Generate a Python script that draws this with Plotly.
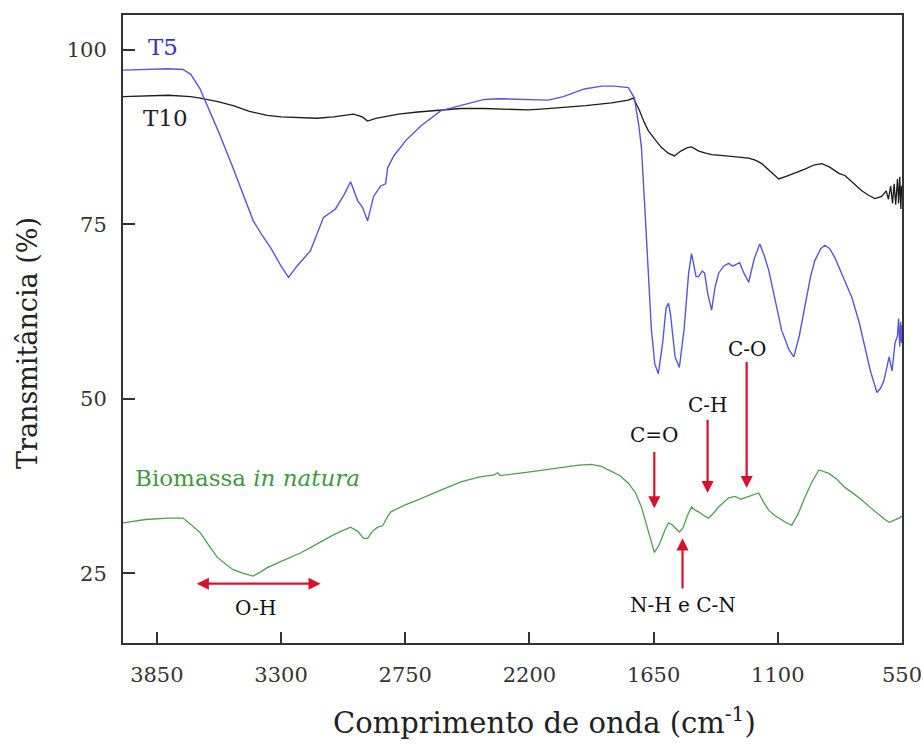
import plotly.graph_objects as go

# FTIR spectra: wavenumber (cm-1) and transmittance (%)
t5_wn = [4000, 3900, 3800, 3734, 3700, 3660, 3636, 3580, 3525, 3470, 3423, 3385, 3347, 3300, 3267,
         3230, 3170, 3112, 3080, 3059, 3020, 2992, 2961, 2939, 2917, 2890, 2859, 2837, 2828, 2801,
         2748, 2681, 2592, 2490, 2400, 2339, 2200, 2117, 2050, 1957, 1880, 1824, 1762, 1735, 1715,
         1704, 1690, 1673, 1660, 1645, 1629, 1610, 1595, 1584, 1575, 1555, 1536, 1515, 1495, 1482,
         1470, 1462, 1451, 1435, 1424, 1410, 1393, 1378, 1362, 1340, 1318, 1300, 1269, 1250, 1229,
         1205, 1180, 1160, 1140, 1110, 1083, 1050, 1029, 1005, 980, 955, 936, 910, 892, 870,
         847, 810, 772, 740, 714, 690, 661, 645, 630, 615, 607, 594, 581, 570, 565,
         560, 556, 552, 550]
t5_t = [97.1, 97.2, 97.3, 97.2, 96.5, 94.5, 92.7, 88.5, 84.1, 79.5, 75.5, 73.5, 71.7, 69.0, 67.4,
        69.0, 71.2, 76.0, 76.8, 77.2, 79.3, 81.1, 78.4, 77.4, 75.5, 79.0, 80.5, 80.8, 83.1, 84.8,
        87.0, 89.1, 91.3, 92.2, 92.9, 93.0, 92.9, 92.8, 93.3, 94.4, 94.8, 94.8, 94.6, 93.1, 89.0,
        86.0, 78.0, 67.0, 60.0, 55.0, 53.6, 58.0, 63.0, 63.7, 62.0, 56.0, 54.5, 60.0, 68.0, 70.8,
        68.5, 67.5, 67.5, 68.3, 68.0, 65.0, 62.7, 66.0, 68.0, 69.0, 69.4, 69.0, 69.5, 68.0, 66.7,
        70.0, 72.2, 70.5, 68.4, 64.0, 59.8, 57.0, 56.0, 59.0, 63.0, 67.5, 69.8, 71.5, 72.0, 71.5,
        70.2, 67.5, 64.5, 61.0, 57.4, 54.0, 50.9, 51.5, 52.6, 55.0, 56.0, 54.0, 58.0, 59.0, 61.5,
        57.5, 61.0, 58.0, 60.5]

t10_wn = [4000, 3900, 3800, 3700, 3658, 3580, 3512, 3440, 3361, 3300, 3214, 3140, 3068, 3000, 2979,
          2940, 2917, 2880, 2846, 2780, 2695, 2600, 2504, 2400, 2300, 2206, 2150, 2060, 1950, 1837,
          1762, 1740, 1715, 1690, 1673, 1640, 1615, 1585, 1558, 1530, 1500, 1482, 1450, 1420, 1393,
          1330, 1270, 1229, 1200, 1171, 1130, 1096, 1060, 1025, 980, 940, 905, 870, 830, 803,
          770, 728, 700, 670, 640, 620, 610, 600, 592, 585, 578, 570, 565, 560, 555,
          552, 550]
t10_t = [93.3, 93.4, 93.5, 93.3, 93.1, 92.6, 92.0, 91.2, 90.6, 90.4, 90.3, 90.2, 90.4, 90.7, 90.8,
         90.4, 89.8, 90.2, 90.4, 90.8, 91.1, 91.3, 91.6, 91.6, 91.5, 91.4, 91.5, 91.7, 92.0, 92.4,
         92.8, 93.1, 91.5, 89.5, 88.4, 87.0, 86.0, 85.2, 84.8, 85.5, 86.0, 86.1, 85.5, 85.2, 85.0,
         84.8, 84.6, 84.5, 84.2, 83.7, 82.5, 81.5, 81.9, 82.3, 82.9, 83.5, 83.7, 83.2, 82.3, 82.0,
         81.0, 79.8, 79.2, 78.7, 79.0, 79.8, 78.6, 80.5, 78.0, 80.8, 77.8, 81.5, 78.0, 81.8, 77.2,
         80.5, 79.0]

bio_wn = [4000, 3978, 3900, 3800, 3734, 3700, 3658, 3620, 3583, 3545, 3512, 3470, 3423, 3390, 3361,
          3300, 3214, 3140, 3068, 3020, 2992, 2960, 2935, 2917, 2895, 2872, 2850, 2830, 2814, 2750,
          2694, 2600, 2504, 2420, 2357, 2340, 2330, 2206, 2100, 2060, 1980, 1926, 1880, 1851, 1800,
          1762, 1730, 1704, 1690, 1673, 1660, 1647, 1630, 1616, 1600, 1584, 1570, 1558, 1536, 1520,
          1500, 1482, 1465, 1451, 1430, 1407, 1385, 1362, 1340, 1318, 1290, 1265, 1247, 1215, 1185,
          1165, 1140, 1110, 1083, 1060, 1038, 1010, 980, 950, 918, 900, 874, 840, 803, 760,
          728, 690, 652, 630, 607, 585, 563, 550]
bio_t = [32.2, 32.3, 32.7, 32.9, 32.9, 32.0, 30.8, 29.0, 27.3, 26.3, 25.5, 25.0, 24.6, 25.2, 25.8,
         26.7, 27.9, 29.2, 30.5, 31.2, 31.6, 31.0, 30.0, 30.0, 31.0, 31.6, 31.8, 33.0, 33.8, 34.8,
         35.5, 36.8, 38.1, 38.8, 39.1, 39.4, 39.0, 39.5, 40.0, 40.2, 40.5, 40.6, 40.3, 39.8, 39.0,
         37.9, 36.5, 34.5, 33.0, 31.2, 29.5, 28.0, 28.8, 29.8, 31.2, 32.2, 32.0, 31.6, 30.9, 31.5,
         33.3, 34.5, 34.0, 33.8, 33.3, 32.9, 33.6, 34.5, 35.2, 35.8, 36.0, 35.6, 35.8, 36.2, 36.5,
         35.3, 34.0, 33.2, 32.6, 32.2, 31.9, 33.5, 35.9, 38.0, 39.8, 39.6, 39.3, 38.5, 37.3, 36.3,
         35.5, 34.4, 33.3, 32.8, 32.3, 32.6, 32.9, 33.2]

x_ticks = [3850, 3300, 2750, 2200, 1650, 1100, 550]
y_ticks = [25, 50, 75, 100]

# band assignments: (label, wavenumber, label y, arrow tail y, arrow head y)
bands = [
    ("C=O", 1647, 44.8, 42.6, 34.3),
    ("C-H", 1411, 49.1, 47.2, 36.5),
    ("C-O", 1238, 57.2, 55.5, 37.2),
    ("N-H e C-N", 1522, 20.5, 22.6, 30.0),
]

SERIF = "DejaVu Serif"
RED = "#d8122c"

fig = go.Figure()
fig.add_trace(go.Scatter(x=t10_wn, y=t10_t, mode="lines", line=dict(color="#1c1c1c", width=1.3),
                         name="T10", showlegend=False))
fig.add_trace(go.Scatter(x=t5_wn, y=t5_t, mode="lines", line=dict(color="#5656dc", width=1.4),
                         name="T5", showlegend=False))
fig.add_trace(go.Scatter(x=bio_wn, y=bio_t, mode="lines", line=dict(color="#4f9f4f", width=1.3),
                         name="Biomassa in natura", showlegend=False))

ann = []
# series labels
ann.append(dict(x=3822, y=100.4, text="T5", showarrow=False, xref="x", yref="y",
                font=dict(family=SERIF, size=23, color="#3434c8")))
ann.append(dict(x=3813, y=90.3, text="T10", showarrow=False, xref="x", yref="y",
                font=dict(family=SERIF, size=23, color="#222222")))
ann.append(dict(x=3956, y=38.6, text="Biomassa <i>in natura</i>", showarrow=False, xref="x", yref="y",
                xanchor="left", font=dict(family=SERIF, size=23, color="#3e9a3e")))

# O-H stretching range (double-headed arrow)
ann.append(dict(x=3125, y=23.5, ax=3680, ay=23.5, axref="x", ayref="y", xref="x", yref="y",
                text="", showarrow=True, arrowhead=2, startarrowhead=2, arrowside="end+start",
                arrowsize=1.1, startarrowsize=1.1, arrowwidth=2.2, arrowcolor=RED))
ann.append(dict(x=3414, y=20.0, text="O-H", showarrow=False, xref="x", yref="y",
                font=dict(family=SERIF, size=20, color="#111111")))

for label, wn, ly, tail, head in bands:
    ann.append(dict(x=wn, y=head, ax=wn, ay=tail, axref="x", ayref="y", xref="x", yref="y",
                    text="", showarrow=True, arrowhead=2, arrowsize=1.1, arrowwidth=2.2,
                    arrowcolor=RED))
    ann.append(dict(x=wn, y=ly, text=label, showarrow=False, xref="x", yref="y",
                    font=dict(family=SERIF, size=20, color="#111111")))

# axis titles
ann.append(dict(x=0.5, y=0, xref="paper", yref="paper", yanchor="middle", yshift=-78, xshift=32,
                text="Comprimento de onda (cm<sup>-1</sup>)", showarrow=False,
                font=dict(family=SERIF, size=29, color="#222222")))
ann.append(dict(x=0, y=0.5, xref="paper", yref="paper", xanchor="center", yanchor="middle",
                xshift=-96, yshift=-14, textangle=-90, text="Transmitância (%)", showarrow=False,
                font=dict(family=SERIF, size=27, color="#222222")))

fig.update_layout(
    width=923, height=749,
    margin=dict(l=123, r=21, t=15, b=106),
    paper_bgcolor="white", plot_bgcolor="white",
    font=dict(family=SERIF),
    annotations=ann,
    showlegend=False,
)
fig.update_xaxes(range=[4000, 550], tickvals=x_ticks, ticktext=[str(v) for v in x_ticks],
                 ticks="inside", ticklen=11, tickwidth=2, tickcolor="#333333",
                 showgrid=False, zeroline=False, showline=True, linecolor="#333333", linewidth=2,
                 mirror=True, ticklabelstandoff=12, ticklabeloverflow="allow", automargin=False,
                 tickfont=dict(family=SERIF, size=21, color="#333333"))
fig.update_yaxes(range=[15, 105], tickvals=y_ticks, ticktext=[str(v) for v in y_ticks],
                 ticks="inside", ticklen=12, tickwidth=2, tickcolor="#333333",
                 showgrid=False, zeroline=False, showline=True, linecolor="#333333", linewidth=2,
                 mirror=True, ticklabelstandoff=10, automargin=False,
                 tickfont=dict(family=SERIF, size=21, color="#333333"))

fig.write_html("out.html")
